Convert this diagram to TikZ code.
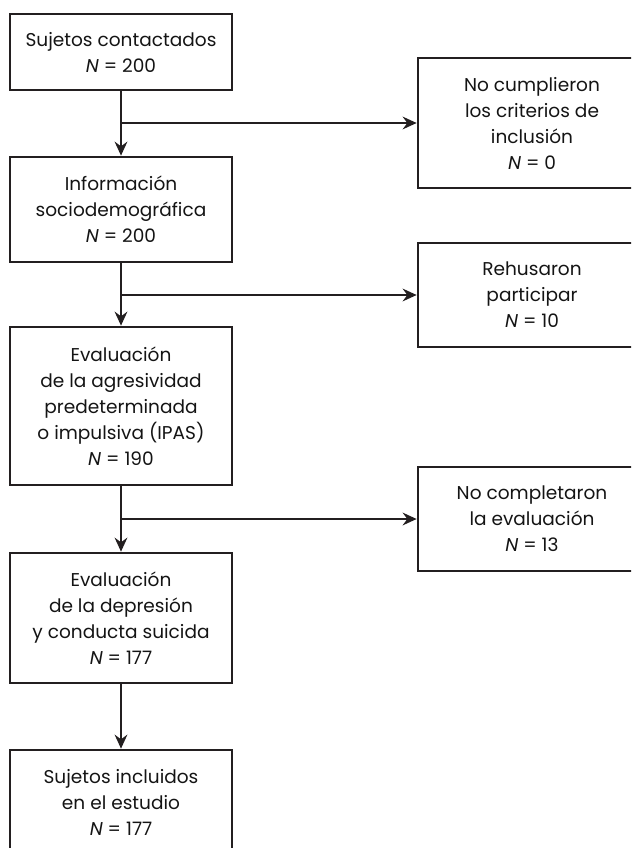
\documentclass[tikz,border=0pt]{standalone}
\usepackage{fontspec}
\setmainfont{Poppins}
\usetikzlibrary{arrows.meta}
\definecolor{ink}{HTML}{231F20}
\definecolor{txt}{HTML}{141414}
\tikzset{
  box/.style={draw=ink, line width=2pt, rectangle, align=center, inner sep=0pt,
    text=txt, font=\fontsize{13.9}{19.5}\selectfont},
  lbox/.style={box, minimum width=222*0.75pt},
  rbox/.style={box, minimum width=228*0.75pt},
  conn/.style={draw=ink, line width=1.8pt, -{Stealth[length=10.5pt,width=9.5pt,inset=3.5pt]}}
}
\begin{document}
\begin{tikzpicture}[x=0.75pt,y=-0.75pt]
\useasboundingbox (0,0) rectangle (631,848);
\clip (0,0) rectangle (631,848);
\node[lbox, minimum height=76*0.75pt] (b1) at (121,52) {Sujetos contactados\\\textit{N} = 200};
\node[lbox, minimum height=105*0.75pt] (b2) at (121,209.5) {Información\\sociodemográfica\\\textit{N} = 200};
\node[lbox, minimum height=158*0.75pt] (b3) at (121,406) {Evaluación\\de la agresividad\\predeterminada\\o impulsiva (IPAS)\\\textit{N} = 190};
\node[lbox, minimum height=130*0.75pt] (b4) at (121,618) {Evaluación\\de la depresión\\y conducta suicida\\\textit{N} = 177};
\node[lbox, minimum height=104*0.75pt] (b5) at (121,802) {Sujetos incluidos\\en el estudio\\\textit{N} = 177};
\node[rbox, minimum height=130*0.75pt] (r1) at (532,123) {No cumplieron\\los criterios de\\inclusión\\\textit{N} = 0};
\node[rbox, minimum height=104*0.75pt] (r2) at (532,295) {Rehusaron\\participar\\\textit{N} = 10};
\node[rbox, minimum height=104*0.75pt] (r3) at (532,519) {No completaron\\la evaluación\\\textit{N} = 13};
\draw[conn] (b1.south) -- (b2.north);
\draw[conn] (b2.south) -- (b3.north);
\draw[conn] (b3.south) -- (b4.north);
\draw[conn] (b4.south) -- (b5.north);
\coordinate (j1) at (b1.south |- r1.west);
\coordinate (j2) at (b2.south |- r2.west);
\coordinate (j3) at (b3.south |- r3.west);
\draw[conn] (j1) -- (r1.west);
\draw[conn] (j2) -- (r2.west);
\draw[conn] (j3) -- (r3.west);
\end{tikzpicture}
\end{document}
